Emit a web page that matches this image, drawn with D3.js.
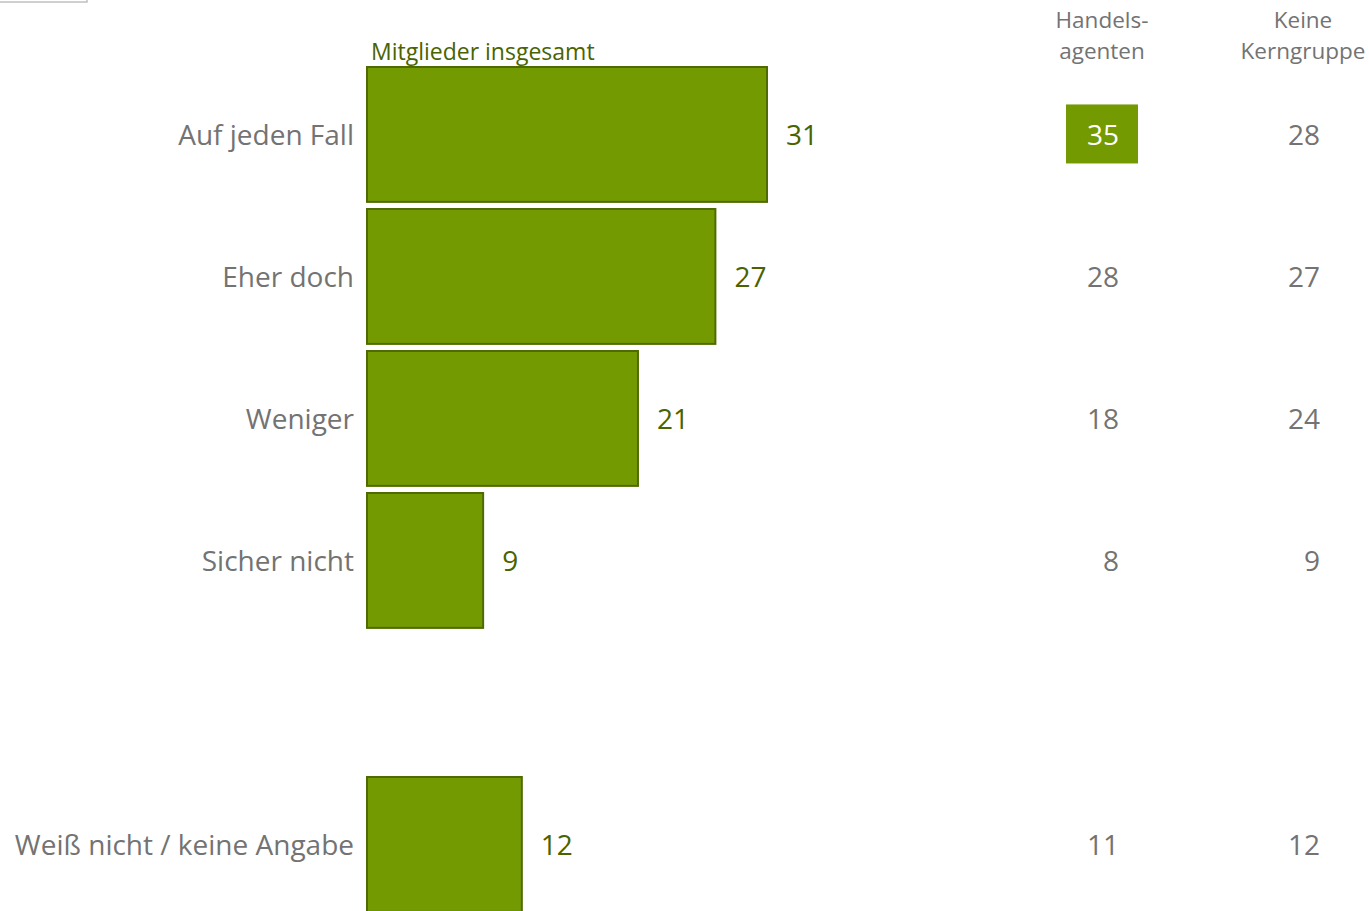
<!DOCTYPE html>
<html><head><meta charset="utf-8">
<script src="https://cdn.jsdelivr.net/npm/d3@7"></script>
<style>body{margin:0;background:#fff;overflow:hidden}svg{display:block}text{font-family:"Open Sans",sans-serif}</style>
</head><body>
<svg id="c" width="1369" height="911"></svg>
<script>
const categories = ["Auf jeden Fall","Eher doch","Weniger","Sicher nicht","","Weiß nicht / keine Angabe"];
const totalValues = [31,27,21,9,null,12];
const handelsValues = [35,28,18,8,null,11];
const keineValues = [28,27,24,9,null,12];
const highlight = [true,false,false,false,false,false];
const seriesTitle = "Mitglieder insgesamt";
const colHeaders = [["Handels-","agenten"],["Keine","Kerngruppe"]];

const svg = d3.select("#c");
const green = "#739a00", dark = "#4f6b00", gray = "#737373", labelGreen = "#4a6300";

const x = d3.scaleLinear().domain([0,31]).range([367,767]);
const y = d3.scaleBand().domain(d3.range(categories.length)).range([63.45,915.45]).paddingInner(0.05).paddingOuter(0.025);

svg.append("rect").attr("x",-1).attr("y",-20).attr("width",88).attr("height",22).attr("fill","none").attr("stroke","#c0c0c0").attr("stroke-width",1.5);

const idx = d3.range(categories.length).filter(i => totalValues[i] !== null);

svg.selectAll("rect.bar").data(idx).join("rect").attr("class","bar")
  .attr("x", x(0)).attr("y", i => y(i)).attr("width", i => x(totalValues[i]) - x(0)).attr("height", y.bandwidth())
  .attr("fill", green).attr("stroke", dark).attr("stroke-width", 2);

svg.selectAll("text.val").data(idx).join("text").attr("class","val")
  .attr("x", i => x(totalValues[i]) + 19).attr("y", i => y(i) + y.bandwidth()/2).attr("dy","0.36em")
  .attr("fill", labelGreen).attr("font-size", 28).text(i => totalValues[i]);

svg.selectAll("text.cat").data(idx).join("text").attr("class","cat")
  .attr("x", 354).attr("y", i => y(i) + y.bandwidth()/2).attr("dy","0.38em").attr("text-anchor","end")
  .attr("fill", gray).attr("font-size", 28).text(i => categories[i]);

svg.append("text").attr("x",371).attr("y",60).attr("fill",labelGreen).attr("font-size",23).text(seriesTitle);

const colCenters = [1102,1303];
const colRight = [1119,1320];
colHeaders.forEach((h,c) => {
  h.forEach((line,k) => svg.append("text").attr("x",colCenters[c]).attr("y",28+k*31).attr("text-anchor","middle")
    .attr("fill",gray).attr("font-size",22.5).text(line));
});

idx.filter(i => highlight[i]).forEach(i => {
  const cy = y(i) + y.bandwidth()/2;
  svg.append("rect").attr("x",1066).attr("y",cy-30).attr("width",72).attr("height",59).attr("fill",green);
});

[handelsValues, keineValues].forEach((vals,c) => {
  svg.selectAll("text.col"+c).data(idx).join("text").attr("class","col"+c)
    .attr("x", colRight[c]).attr("y", i => y(i) + y.bandwidth()/2).attr("dy","0.36em").attr("text-anchor","end")
    .attr("fill", i => (c===0 && highlight[i]) ? "#fff" : gray).attr("font-size",28).text(i => vals[i]);
});
</script>
</body></html>
